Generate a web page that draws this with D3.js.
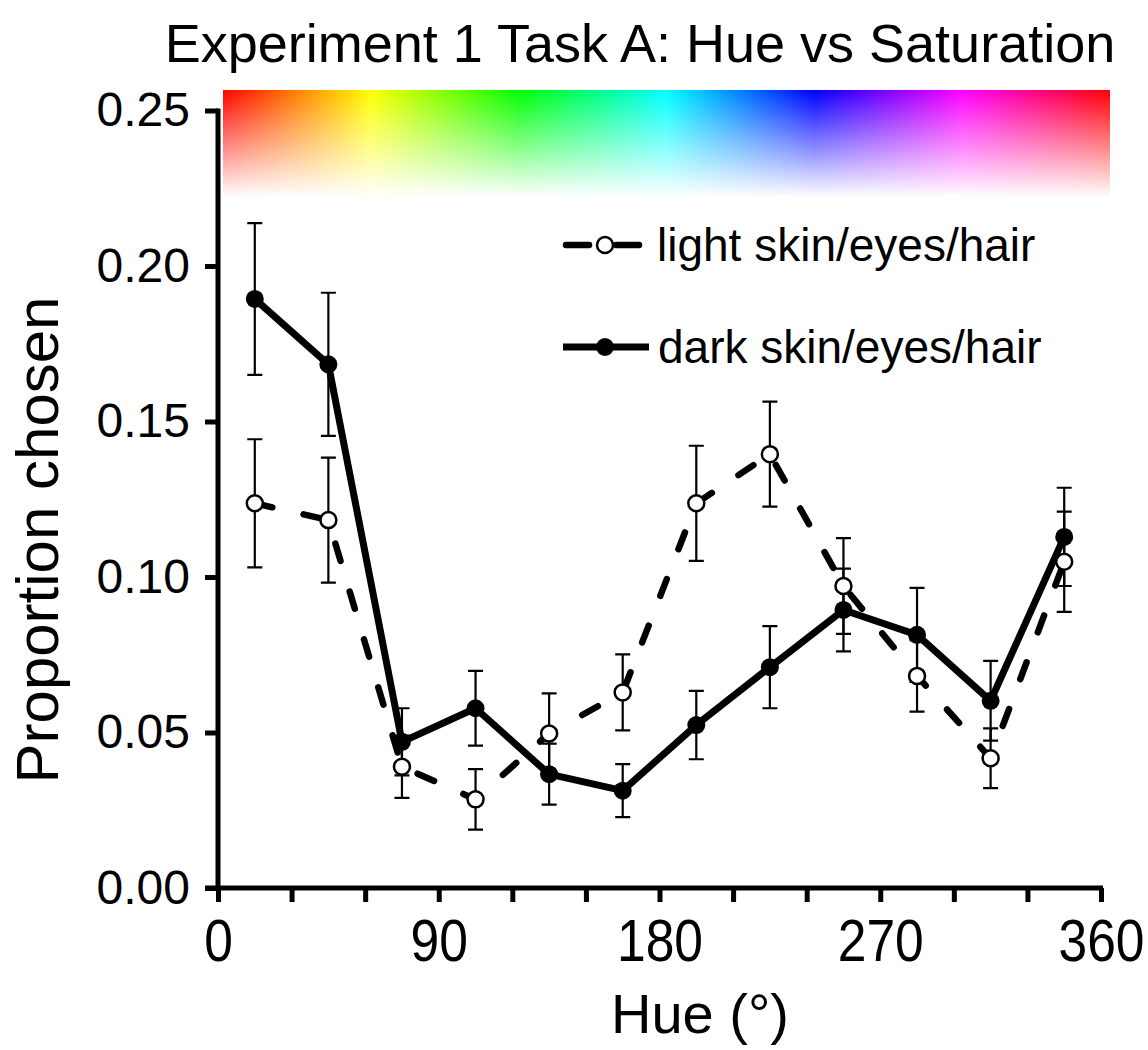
<!DOCTYPE html>
<html>
<head>
<meta charset="utf-8">
<script src="https://cdn.jsdelivr.net/npm/d3@7"></script>
<style>
  body { margin: 0; background: #fff; }
  svg text { font-family: "Liberation Sans", Arial, sans-serif; fill: #000; }
</style>
</head>
<body>
<div id="chart"></div>
<script>
// hue bins (deg) and proportions
const hues = [15, 45, 75, 105, 135, 165, 195, 225, 255, 285, 315, 345];
const lightMean = [0.1237, 0.1183, 0.0390, 0.0285, 0.0497, 0.0629, 0.1237, 0.1395, 0.0971, 0.0682, 0.0417, 0.1049];
const lightErr  = [0.0206, 0.0201, 0.0100, 0.0097, 0.0129, 0.0122, 0.0185, 0.0169, 0.0154, 0.0115, 0.0096, 0.0161];
const darkMean  = [0.1894, 0.1684, 0.0470, 0.0578, 0.0366, 0.0313, 0.0524, 0.0710, 0.0894, 0.0814, 0.0602, 0.1129];
const darkErr   = [0.0244, 0.0230, 0.0108, 0.0120, 0.0098, 0.0085, 0.0110, 0.0132, 0.0133, 0.0151, 0.0128, 0.0158];

const xTicks = d3.range(0, 361, 30);
const xLabels = [0, 90, 180, 270, 360];
const yTicks = [0, 0.05, 0.10, 0.15, 0.20, 0.25];
const hueStops = [0, 60, 120, 180, 240, 300, 360];

const width = 1148, height = 1050;

const x = d3.scaleLinear().domain([0, 360]).range([218, 1101]);
const y = d3.scaleLinear().domain([0, 0.25]).range([888, 110.5]);

const svg = d3.select('#chart')
  .append('svg')
  .attr('width', width)
  .attr('height', height);

// hue strip, fading to white downwards
const defs = svg.append('defs');
const hueGrad = defs.append('linearGradient').attr('id', 'hueGrad');
hueGrad.selectAll('stop')
  .data(hueStops)
  .join('stop')
  .attr('offset', d => d / 360)
  .attr('stop-color', d => d3.hsl(d, 1, 0.5));
const fade = defs.append('linearGradient').attr('id', 'fade')
  .attr('x1', 0).attr('x2', 0).attr('y1', 0).attr('y2', 1);
fade.append('stop').attr('offset', 0).attr('stop-color', '#fff').attr('stop-opacity', 0);
fade.append('stop').attr('offset', 0.92).attr('stop-color', '#fff').attr('stop-opacity', 1);

const barX0 = x(0) + 5, barX1 = x(360) + 9;
const barY0 = y(0.2566), barY1 = y(0.219);
svg.append('rect')
  .attr('x', barX0).attr('y', barY0)
  .attr('width', barX1 - barX0).attr('height', barY1 - barY0 - 1)
  .attr('fill', 'url(#hueGrad)');
svg.append('rect')
  .attr('x', barX0).attr('y', barY0)
  .attr('width', barX1 - barX0).attr('height', barY1 - barY0)
  .attr('fill', 'url(#fade)');

// title
svg.append('text')
  .attr('x', 640).attr('y', 62)
  .attr('text-anchor', 'middle')
  .style('font-size', '54px')
  .text('Experiment 1 Task A: Hue vs Saturation');

// axes
const xAxis = g => g
  .attr('transform', `translate(0,${y(0)})`)
  .call(d3.axisBottom(x).tickValues(xTicks).tickSize(14).tickSizeOuter(0).tickPadding(16)
    .tickFormat(d => xLabels.includes(d) ? d : ''))
  .call(g => g.select('.domain').remove())
  .call(g => g.selectAll('.tick line').attr('stroke', '#000').attr('stroke-width', 5))
  .call(g => g.selectAll('.tick text').style('font-size', '60px').attr('fill', '#000')
    .attr('transform', 'scale(0.86,1)'));

const yAxis = g => g
  .attr('transform', `translate(${x(0)},0)`)
  .call(d3.axisLeft(y).tickValues(yTicks).tickSize(13).tickSizeOuter(0).tickPadding(15)
    .tickFormat(d3.format('.2f')))
  .call(g => g.select('.domain').remove())
  .call(g => g.selectAll('.tick line').attr('stroke', '#000').attr('stroke-width', 5))
  .call(g => g.selectAll('.tick text').style('font-size', '48px').attr('fill', '#000'));

svg.append('g').call(xAxis);
svg.append('g').call(yAxis);

// axis lines
svg.append('line')
  .attr('x1', x(0) - 13).attr('x2', x(360) + 2)
  .attr('y1', y(0)).attr('y2', y(0))
  .attr('stroke', '#000').attr('stroke-width', 5);
svg.append('line')
  .attr('x1', x(0)).attr('x2', x(0))
  .attr('y1', y(0.25) - 2).attr('y2', y(0))
  .attr('stroke', '#000').attr('stroke-width', 5);

svg.append('text')
  .attr('x', 700).attr('y', 1033)
  .attr('text-anchor', 'middle')
  .style('font-size', '56px')
  .text('Hue (°)');

svg.append('text')
  .attr('transform', `translate(58,${540}) rotate(-90)`)
  .attr('text-anchor', 'middle')
  .style('font-size', '60px')
  .text('Proportion chosen');

const dark = hues.map((h, i) => ({ h, v: darkMean[i], e: darkErr[i] }));
const light = hues.map((h, i) => ({ h, v: lightMean[i], e: lightErr[i] }));

const line = d3.line()
  .x(d => x(d.h))
  .y(d => y(d.v));

const drawErr = data => {
  const g = svg.append('g').attr('stroke', '#000').attr('stroke-width', 2.2).attr('fill', 'none');
  g.selectAll('path')
    .data(data)
    .join('path')
    .attr('d', d => {
      const cx = x(d.h), t = y(d.v + d.e), b = y(d.v - d.e);
      return `M${cx - 7.5},${t}H${cx + 7.5}M${cx},${t}V${b}M${cx - 7.5},${b}H${cx + 7.5}`;
    });
};

drawErr(dark);
drawErr(light);

svg.append('path')
  .datum(dark)
  .attr('fill', 'none')
  .attr('stroke', '#000')
  .attr('stroke-width', 7)
  .attr('stroke-linejoin', 'round')
  .attr('d', line);

svg.append('path')
  .datum(light)
  .attr('fill', 'none')
  .attr('stroke', '#000')
  .attr('stroke-width', 6.5)
  .attr('stroke-linecap', 'round')
  .attr('stroke-dasharray', '18,32')
  .attr('d', line);

svg.append('g')
  .selectAll('circle')
  .data(dark)
  .join('circle')
  .attr('cx', d => x(d.h))
  .attr('cy', d => y(d.v))
  .attr('r', 9)
  .attr('fill', '#000');

svg.append('g')
  .selectAll('circle')
  .data(light)
  .join('circle')
  .attr('cx', d => x(d.h))
  .attr('cy', d => y(d.v))
  .attr('r', 8)
  .attr('fill', '#fff')
  .attr('stroke', '#000')
  .attr('stroke-width', 2.5);

// legend
const legend = svg.append('g');
const lg1 = legend.append('g').attr('transform', 'translate(563,245)');
lg1.append('line').attr('x1', 3).attr('x2', 26).attr('y1', 0).attr('y2', 0)
  .attr('stroke', '#000').attr('stroke-width', 6.5).attr('stroke-linecap', 'round');
lg1.append('line').attr('x1', 53).attr('x2', 76).attr('y1', 0).attr('y2', 0)
  .attr('stroke', '#000').attr('stroke-width', 6.5).attr('stroke-linecap', 'round');
lg1.append('circle').attr('cx', 42).attr('cy', 0).attr('r', 8)
  .attr('fill', '#fff').attr('stroke', '#000').attr('stroke-width', 2.5);
lg1.append('text').attr('x', 94).attr('dy', '0.35em').style('font-size', '46px')
  .text('light skin/eyes/hair');

const lg2 = legend.append('g').attr('transform', 'translate(563,347)');
lg2.append('line').attr('x1', 0).attr('x2', 86).attr('y1', 0).attr('y2', 0)
  .attr('stroke', '#000').attr('stroke-width', 7);
lg2.append('circle').attr('cx', 42).attr('cy', 0).attr('r', 9).attr('fill', '#000');
lg2.append('text').attr('x', 95).attr('dy', '0.35em').style('font-size', '46px')
  .text('dark skin/eyes/hair');
</script>
</body>
</html>
